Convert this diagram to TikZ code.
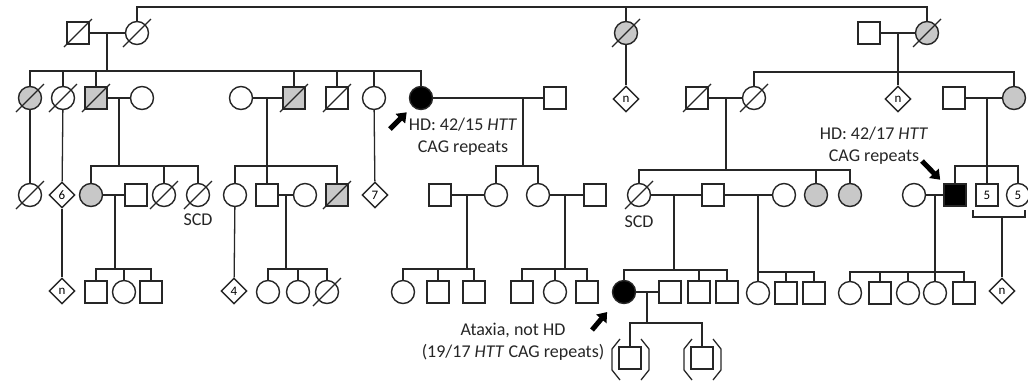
\documentclass[tikz,border=0pt]{standalone}
\usepackage{fontspec}
\setmainfont{Carlito}
\usetikzlibrary{arrows.meta, shapes.geometric, calc}
\definecolor{pdline}{HTML}{262626}
\definecolor{pdgrey}{HTML}{C8C8C8}

\begin{document}
\begin{tikzpicture}[x=1pt, y=-1pt,
  male/.style={draw=pdline, line width=1.4pt, fill=white, minimum size=22pt, inner sep=0pt,
               font=\fontsize{13}{13}\selectfont},
  female/.style={circle, draw=pdline, line width=1.4pt, fill=white, minimum size=23pt, inner sep=0pt,
                 font=\fontsize{13}{13}\selectfont},
  unk/.style={diamond, draw=pdline, line width=1.4pt, fill=white, minimum size=26pt, inner sep=0pt,
              font=\fontsize{13}{13}\selectfont},
  aff/.style={fill=pdgrey},
  hd/.style={fill=black},
  link/.style={draw=pdline, line width=1.3pt},
  slash/.style={draw=pdline, line width=1.3pt},
  pointer/.style={-{Triangle[length=9pt,width=13pt]}, line width=5pt, black},
  note/.style={font=\fontsize{18}{22}\selectfont, align=center, text=pdline},
]
  \useasboundingbox (0,0) rectangle (1028,384);

  % Generation I
  \node[male]        (i1) at (78,33)  {};
  \node[female]      (i2) at (137,33) {};
  \node[female, aff] (i3) at (626,33) {};
  \node[male]        (i4) at (869,33) {};
  \node[female, aff] (i5) at (927,33) {};

  % Generation II
  \node[female, aff] (ii1)  at (30,98)  {};
  \node[female]      (ii2)  at (63,98)  {};
  \node[male, aff]   (ii3)  at (96,98)  {};
  \node[female]      (ii4)  at (142,98) {};
  \node[female]      (ii5)  at (241,98) {};
  \node[male, aff]   (ii6)  at (294,98) {};
  \node[male]        (ii7)  at (337,98) {};
  \node[female]      (ii8)  at (374,98) {};
  \node[female, hd]  (ii9)  at (421,98) {};
  \node[male]        (ii10) at (555,98) {};
  \node[unk]         (ii11) at (626,99) {n};
  \node[male]        (ii12) at (697,98) {};
  \node[female]      (ii13) at (754,98) {};
  \node[unk]         (ii14) at (898,99) {n};
  \node[male]        (ii15) at (954,98) {};
  \node[female, aff] (ii16) at (1014,98) {};

  % Generation III
  \node[female]      (iii1)  at (30,195)  {};
  \node[unk]         (iii2)  at (62,195)  {6};
  \node[female, aff] (iii3)  at (91,195)  {};
  \node[male]        (iii4)  at (136,195) {};
  \node[female]      (iii5)  at (164,195) {};
  \node[female]      (iii6)  at (198,195) {};
  \node[female]      (iii7)  at (235,195) {};
  \node[male]        (iii8)  at (267,195) {};
  \node[female]      (iii9)  at (305,195) {};
  \node[male, aff]   (iii10) at (337,195) {};
  \node[unk]         (iii11) at (375,195) {7};
  \node[male]        (iii12) at (440,195) {};
  \node[female]      (iii13) at (496,195) {};
  \node[female]      (iii14) at (538,195) {};
  \node[male]        (iii15) at (595,195) {};
  \node[female]      (iii16) at (639,195) {};
  \node[male]        (iii17) at (713,195) {};
  \node[female]      (iii18) at (784,195) {};
  \node[female, aff] (iii19) at (816,195) {};
  \node[female, aff] (iii20) at (850,195) {};
  \node[female]      (iii21) at (914,195) {};
  \node[male, hd]    (iii22) at (955,195) {};
  \node[male]        (iii23) at (987,195) {5};
  \node[female]      (iii24) at (1018,195) {5};

  % Generation IV
  \node[unk]         (iv1)  at (62,291)  {n};
  \node[male]        (iv2)  at (96,292)  {};
  \node[female]      (iv3)  at (124,292) {};
  \node[male]        (iv4)  at (151,292) {};
  \node[unk]         (iv5)  at (234,291) {4};
  \node[female]      (iv6)  at (268,292) {};
  \node[female]      (iv7)  at (298,292) {};
  \node[female]      (iv8)  at (327,292) {};
  \node[female]      (iv9)  at (403,292) {};
  \node[male]        (iv10) at (438,292) {};
  \node[male]        (iv11) at (474,292) {};
  \node[male]        (iv12) at (522,292) {};
  \node[female]      (iv13) at (555,292) {};
  \node[male]        (iv14) at (587,292) {};
  \node[female, hd]  (iv15) at (624,292) {};
  \node[male]        (iv16) at (670,292) {};
  \node[male]        (iv17) at (699,292) {};
  \node[male]        (iv18) at (727,292) {};
  \node[female]      (iv19) at (758,293) {};
  \node[male]        (iv20) at (786,293) {};
  \node[male]        (iv21) at (814,293) {};
  \node[female]      (iv22) at (850,293) {};
  \node[male]        (iv23) at (880,293) {};
  \node[female]      (iv24) at (908,293) {};
  \node[female]      (iv25) at (935,293) {};
  \node[male]        (iv26) at (964,293) {};
  \node[unk]         (iv27) at (1002,291) {n};

  % Generation V
  \node[male] (v1) at (630,358) {};
  \node[male] (v2) at (702,358) {};

  % Deceased
  \foreach \n in {i1,i2,i3,i5,ii1,ii2,ii3,ii6,ii7,ii12,ii13,iii1,iii5,iii6,iii10,iii16,iv8}
    \draw[slash] (\n) ++(-14,14) -- ++(28,-28);

  % Brackets
  \foreach \n in {v1,v2} {
    \draw[link] (\n) ++(-10,-19) -- ++(-8,10) -- ++(0,21) -- ++(8,10);
    \draw[link] (\n) ++(11,-19) -- ++(8,10) -- ++(0,21) -- ++(-8,10);
  }

  % Marriages and sibships
  \coordinate (tp) at (626,7);
  \draw[link] (i2) |- (tp) -| (i5);
  \draw[link] (tp) -- (i3);
  \draw[link] (i3) -- (ii11);

  \coordinate (m1) at (107,33);  \coordinate (s1) at (107,71);
  \draw[link] (i1) -- (i2);
  \draw[link] (m1) -- (s1);
  \foreach \k in {ii1,ii2,ii3,ii6,ii7,ii8,ii9}
    \draw[link] (\k) |- (s1);

  \coordinate (m2) at (898,33);  \coordinate (s2) at (898,72);
  \draw[link] (i4) -- (i5);
  \draw[link] (m2) -- (ii14);
  \foreach \k in {ii13,ii16}
    \draw[link] (\k) |- (s2);

  \draw[link] (ii1) -- (iii1);
  \draw[link] (ii2) -- (iii2);
  \draw[link] (iii2) -- (iv1);
  \draw[link] (ii8) -- (iii11);
  \draw[link] (iii7) -- (iv5);

  \coordinate (m3) at (119,98);  \coordinate (s3) at (119,166);
  \draw[link] (ii3) -- (ii4);
  \draw[link] (m3) -- (s3);
  \foreach \k in {iii3,iii5,iii6}
    \draw[link] (\k) |- (s3);

  \coordinate (m4) at (267,98);  \coordinate (s4) at (267,166);
  \draw[link] (ii5) -- (ii6);
  \draw[link] (m4) -- (iii8);
  \foreach \k in {iii7,iii10}
    \draw[link] (\k) |- (s4);

  \coordinate (m5) at (523,98);  \coordinate (s5) at (523,166);
  \draw[link] (ii9) -- (ii10);
  \draw[link] (m5) -- (s5);
  \foreach \k in {iii13,iii14}
    \draw[link] (\k) |- (s5);

  \coordinate (m6) at (726,98);  \coordinate (s6) at (726,170);
  \draw[link] (ii12) -- (ii13);
  \draw[link] (m6) -- (s6);
  \foreach \k in {iii16,iii19,iii20}
    \draw[link] (\k) |- (s6);

  \coordinate (m7) at (987,98);  \coordinate (s7) at (987,166);
  \draw[link] (ii15) -- (ii16);
  \draw[link] (m7) -- (iii23);
  \foreach \k in {iii22,iii24}
    \draw[link] (\k) |- (s7);

  \coordinate (m8) at (115,195);  \coordinate (s8) at (115,269);
  \draw[link] (iii3) -- (iii4);
  \draw[link] (m8) -- (s8);
  \foreach \k in {iv2,iv3,iv4}
    \draw[link] (\k) |- (s8);

  \coordinate (m9) at (286,195);  \coordinate (s9) at (286,269);
  \draw[link] (iii8) -- (iii9);
  \draw[link] (m9) -- (s9);
  \foreach \k in {iv6,iv7,iv8}
    \draw[link] (\k) |- (s9);

  \coordinate (m10) at (467,195);  \coordinate (s10) at (467,269);
  \draw[link] (iii12) -- (iii13);
  \draw[link] (m10) -- (s10);
  \foreach \k in {iv9,iv10,iv11}
    \draw[link] (\k) |- (s10);

  \coordinate (m11) at (565,195);  \coordinate (s11) at (565,269);
  \draw[link] (iii14) -- (iii15);
  \draw[link] (m11) -- (s11);
  \foreach \k in {iv12,iv13,iv14}
    \draw[link] (\k) |- (s11);

  \coordinate (m12) at (674,195);  \coordinate (s12) at (674,270);
  \draw[link] (iii16) -- (iii17);
  \draw[link] (m12) -- (s12);
  \foreach \k in {iv15,iv17,iv18}
    \draw[link] (\k) |- (s12);

  \coordinate (m13) at (758,195);  \coordinate (s13) at (758,272);
  \draw[link] (iii17) -- (iii18);
  \draw[link] (m13) -- (iv19);
  \foreach \k in {iv20,iv21}
    \draw[link] (\k) |- (s13);

  \coordinate (m14) at (935,195);  \coordinate (s14) at (935,272);
  \draw[link] (iii21) -- (iii22);
  \draw[link] (m14) -- (iv25);
  \foreach \k in {iv22,iv23,iv24,iv26}
    \draw[link] (\k) |- (s14);

  \coordinate (m15) at (647,292);  \coordinate (s15) at (647,323);
  \draw[link] (iv15) -- (iv16);
  \draw[link] (m15) -- (s15);
  \foreach \k in {v1,v2}
    \draw[link] (\k) |- (s15);

  \coordinate (b1) at (973,210);  \coordinate (b2) at (1025,210);
  \coordinate (bm) at (1002,217);
  \draw[link] (b1) -- ++(0,7) -| (b2);
  \draw[link] (bm) -- (iv27);

  % Notes
  \node[note] (hd1) at (463,137) {HD: 42/15 \textit{HTT}\\CAG repeats};
  \node[note] (hd2) at (874,146) {HD: 42/17 \textit{HTT}\\CAG repeats};
  \node[note] (atx) at (513,342) {Ataxia, not HD\\(19/17 \textit{HTT} CAG repeats)};
  \node[note] (scd1) at (198,220) {SCD};
  \node[note] (scd2) at (639,222) {SCD};

  % Arrows
  \coordinate (p1) at (390,129);
  \coordinate (p2) at (922,161);
  \coordinate (p3) at (592,330);
  \draw[pointer, shorten >=8pt] (p1) -- (ii9);
  \draw[pointer, shorten >=5pt] (p2) -- (iii22);
  \draw[pointer, shorten >=14pt] (p3) -- (iv15);
\end{tikzpicture}
\end{document}
